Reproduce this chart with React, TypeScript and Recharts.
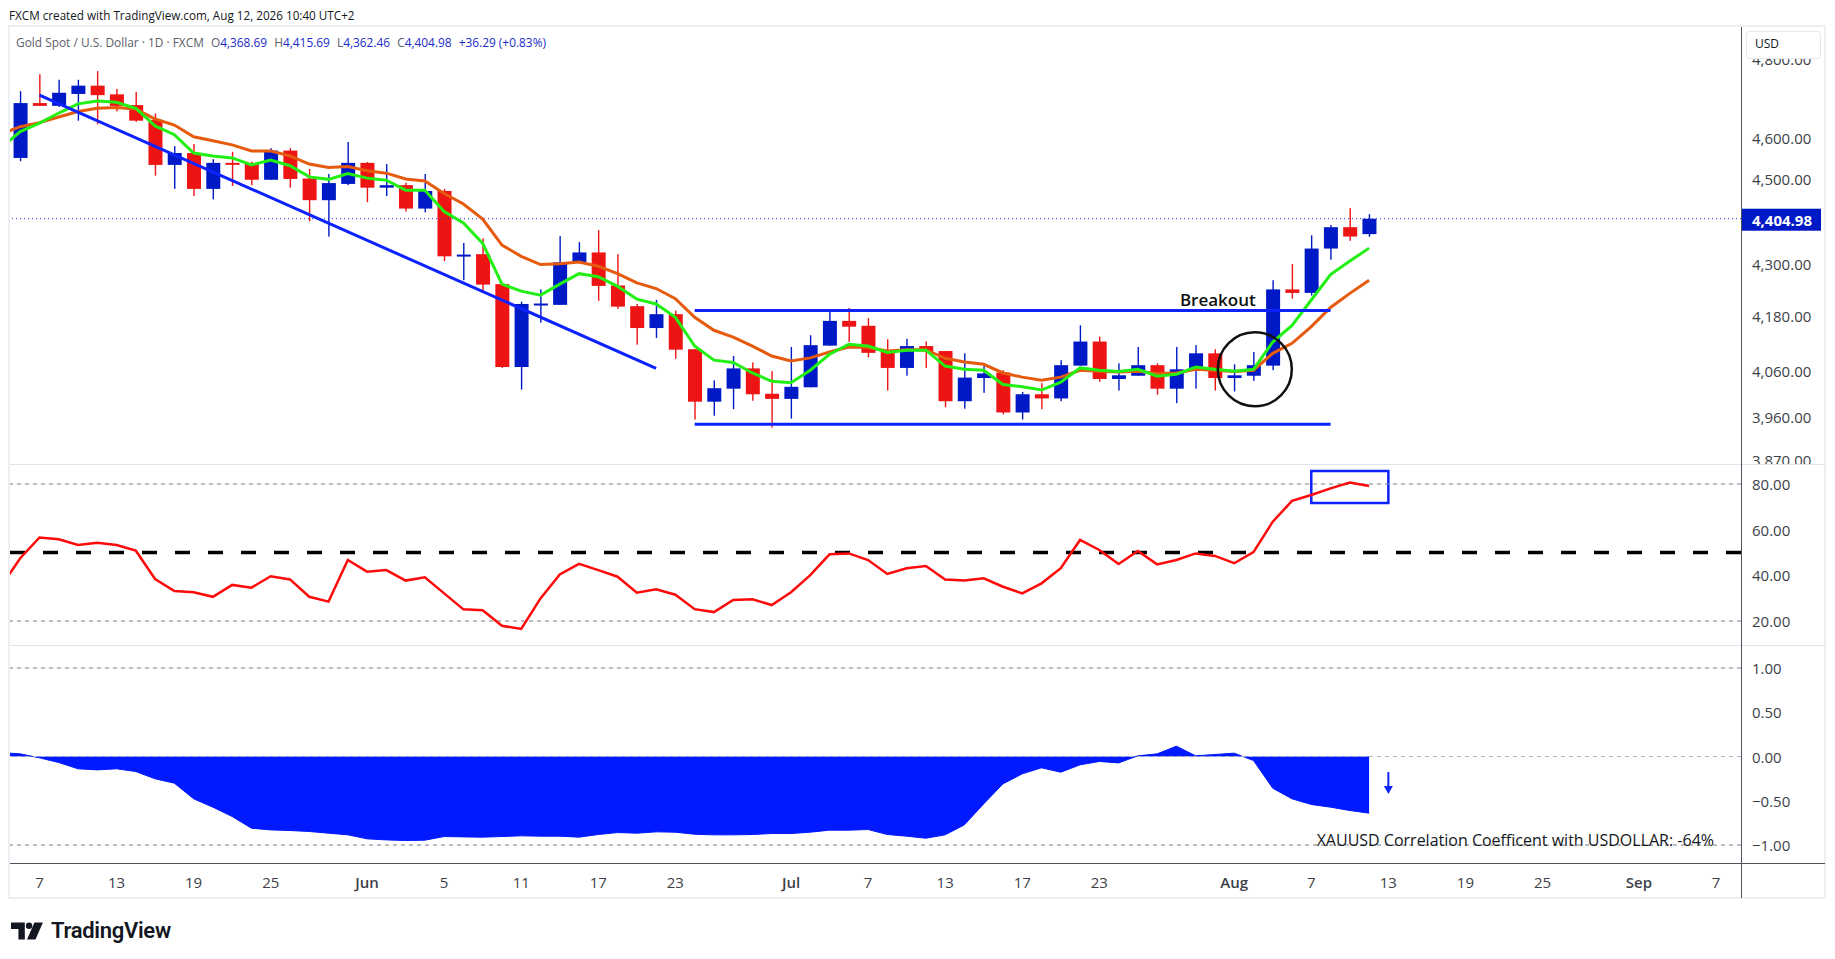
import React from 'react'
import {
  ComposedChart, Bar, Line, Area, XAxis, YAxis,
  ReferenceLine, ReferenceDot, ReferenceArea,
} from 'recharts'

// bar index 0 = May 6, 2026 (daily, weekdays only); index -1 only carries indicator values
const FIRST_INDEX = -1

const OPEN = [
  4551, 4687, 4680, 4710, 4731, 4709, 4682, 4645, 4534, 4563,
  4476, 4539, 4537, 4498, 4569, 4501, 4449, 4488, 4539, 4479,
  4485, 4429, 4471, 4318, 4322, 4253, 4068, 4207, 4206, 4303,
  4326, 4250, 4203, 4154, 4185, 4107, 3993, 4021, 4065, 4010,
  3999, 4024, 4115, 4170, 4159, 4101, 4066, 4114, 4103, 3994,
  4044, 4056, 3970, 4009, 4000, 4071, 4124, 4042, 4049, 4072,
  4021, 4061, 4098, 4044, 4049, 4071, 4241, 4233, 4335, 4385,
  4368.69,
]
const HIGH = [
  4717, 4760, 4746, 4746, 4768, 4723, 4715, 4661, 4580, 4585,
  4548, 4566, 4542, 4575, 4575, 4524, 4512, 4590, 4541, 4536,
  4491, 4512, 4476, 4348, 4359, 4253, 4213, 4241, 4364, 4350,
  4378, 4322, 4208, 4217, 4193, 4107, 4039, 4092, 4078, 4059,
  4112, 4138, 4192, 4199, 4176, 4129, 4130, 4124, 4103, 4098,
  4070, 4061, 4014, 4033, 4083, 4160, 4135, 4076, 4112, 4076,
  4112, 4116, 4107, 4074, 4101, 4262, 4299, 4366, 4390, 4430,
  4415.69,
]
const LOW = [
  4543, 4680, 4677, 4643, 4634, 4666, 4640, 4508, 4476, 4459,
  4451, 4483, 4485, 4498, 4479, 4399, 4363, 4485, 4444, 4459,
  4422, 4420, 4306, 4262, 4238, 4066, 4019, 4166, 4206, 4303,
  4215, 4197, 4117, 4132, 4086, 3955, 3963, 3977, 3995, 3938,
  3957, 4024, 4115, 4123, 4089, 4017, 4049, 4066, 3981, 3978,
  4012, 3966, 3955, 3977, 3994, 4071, 4036, 4017, 4049, 4008,
  3990, 4021, 4017, 4015, 4038, 4061, 4220, 4227, 4309, 4353,
  4362.46,
]
const CLOSE = [
  4687, 4680, 4713, 4731, 4707, 4680, 4643, 4534, 4563, 4476,
  4539, 4537, 4498, 4569, 4500, 4449, 4490, 4539, 4479, 4485,
  4429, 4471, 4317, 4321, 4252, 4068, 4208, 4209, 4303, 4326,
  4249, 4202, 4154, 4185, 4106, 3993, 4022, 4065, 4009, 3999,
  4025, 4116, 4170, 4157, 4099, 4066, 4114, 4102, 3994, 4045,
  4054, 3970, 4009, 4000, 4072, 4124, 4042, 4050, 4072, 4021,
  4063, 4098, 4044, 4050, 4072, 4241, 4233, 4335, 4385, 4363,
  4404.98,
]

// from index -1 to 70
const MA_FAST = [
  4575, 4616, 4637, 4662, 4685, 4692, 4689, 4674, 4630, 4608,
  4563, 4556, 4551, 4534, 4546, 4532, 4505, 4499, 4513, 4502,
  4497, 4473, 4473, 4422, 4395, 4347, 4253, 4237, 4228, 4253,
  4277, 4270, 4248, 4219, 4208, 4178, 4114, 4083, 4078, 4055,
  4037, 4034, 4061, 4096, 4118, 4114, 4100, 4105, 4105, 4070,
  4063, 4061, 4030, 4025, 4018, 4035, 4066, 4061, 4058, 4063,
  4048, 4052, 4068, 4063, 4059, 4063, 4123, 4160, 4217, 4275,
  4306, 4336,
]
const MA_SLOW = [
  4610, 4628, 4638, 4652, 4666, 4674, 4676, 4672, 4647, 4632,
  4603, 4593, 4583, 4568, 4568, 4556, 4536, 4528, 4530, 4520,
  4514, 4500, 4495, 4465, 4440, 4404, 4343, 4317, 4298, 4300,
  4304, 4294, 4277, 4256, 4243, 4220, 4178, 4149, 4134, 4114,
  4092, 4081, 4088, 4101, 4112, 4111, 4103, 4106, 4106, 4087,
  4079, 4074, 4055, 4046, 4039, 4046, 4061, 4059, 4057, 4059,
  4054, 4055, 4063, 4061, 4058, 4061, 4098, 4120, 4157, 4200,
  4232, 4262,
]
const RSI = [
  35, 47.5, 56.6, 55.8, 53.3, 54.3, 53.3, 50.8, 38.4, 33.1,
  32.6, 30.6, 35.8, 34.6, 39.6, 38.2, 30.6, 28.5, 46.7, 41.6,
  42.3, 37.7, 39.1, 32.1, 25.1, 24.7, 17.9, 16.5, 29.9, 40.4,
  45, 42.3, 39.4, 32.4, 33.9, 31.5, 25.2, 23.9, 29.2, 29.5,
  27, 32.6, 40.1, 49.2, 49.6, 46.7, 40.6, 43.1, 44.1, 38.2,
  37.7, 38.7, 35, 32.1, 36.5, 43.1, 55.5, 51.1, 45, 50.7,
  44.8, 46.7, 49.6, 48.5, 45.3, 50.2, 63.5, 72.6, 75.2, 78.1,
  80.6, 79.1,
]
const CORR = [
  0.045, 0.03, -0.015, -0.068, -0.139, -0.151, -0.139, -0.17, -0.252, -0.301,
  -0.478, -0.572, -0.678, -0.81, -0.829, -0.836, -0.847, -0.866, -0.885, -0.93,
  -0.942, -0.949, -0.945, -0.904, -0.908, -0.911, -0.904, -0.896, -0.9, -0.9,
  -0.911, -0.881, -0.859, -0.866, -0.851, -0.855, -0.878, -0.885, -0.885, -0.881,
  -0.87, -0.87, -0.855, -0.832, -0.832, -0.825, -0.881, -0.9, -0.923, -0.885,
  -0.772, -0.535, -0.309, -0.196, -0.128, -0.177, -0.094, -0.056, -0.072, 0.008,
  0.03, 0.117, 0.008, 0.023, 0.038, -0.045, -0.358, -0.478, -0.542, -0.572,
  -0.61, -0.64,
]

const TIME_TICKS = [1, 5, 9, 13, 18, 22, 26, 30, 34, 40, 44, 48, 52, 56, 63, 67, 71, 75, 79, 84, 88]
const TIME_LABELS = ['7', '13', '19', '25', 'Jun', '5', '11', '17', '23', 'Jul', '7', '13', '17', '23', 'Aug', '7', '13', '19', '25', 'Sep', '7']
const MONTHS = ['Jun', 'Jul', 'Aug', 'Sep']
const PRICE_TICKS = [3870, 3960, 4060, 4180, 4300, 4500, 4600, 4800]
const RSI_TICKS = [20, 40, 60, 80]
const CORR_TICKS = [-1, -0.5, 0, 0.5, 1]

const LAST_PRICE = 4404.98
const TREND_START = { x: 1, y: 4707 }
const TREND_END = { x: 33, y: 4065 }
const RANGE_X = [35, 68]
const RANGE_TOP = 4193
const RANGE_BOTTOM = 3945
const BREAKOUT_AT = { x: 62.15, y: 4219 }
const CIRCLE_AT = { x: 64.07, y: 4063 }
const RSI_BOX = { x1: 67, x2: 71, y1: 71.7, y2: 85.7 }
const ARROW_AT = { x: 71, y: -0.3 }
const CAPTION_AT = { x: 87.9, y: -0.94 }

const X_DOMAIN: [number, number] = [-0.53, 89.3]
const FONT = "'Open Sans', 'DejaVu Sans', sans-serif"
const AXIS_TEXT = '#3d3f48'
const UP = '#0019c6'
const DOWN = '#ee1414'
const TREND = '#0c22ff'
const CHART_W = 1815
const PLOT_W = 1731

const data = RSI.map((r, k) => {
  const i = k + FIRST_INDEX
  const row: any = { i, fast: MA_FAST[k], slow: MA_SLOW[k], rsi: r, corr: CORR[k] }
  if (i >= 0) {
    const o = OPEN[i], c = CLOSE[i]
    row.wick = [LOW[i], HIGH[i]]
    row.body = [Math.min(o, c), Math.max(o, c)]
    row.up = c >= o
  }
  return row
})

const fmtPrice = (v: number) => v.toLocaleString('en-US', { minimumFractionDigits: 2, maximumFractionDigits: 2 })
const fmtSigned = (v: number) => (v < 0 ? '\u2212' : '') + Math.abs(v).toFixed(2)

function Wick(p: any) {
  if (p.payload?.up === undefined) return null
  const top = Math.min(p.y, p.y + p.height)
  const h = Math.abs(p.height)
  return <rect x={p.x + p.width / 2 - 0.7} y={top} width={1.4} height={h} fill={p.payload.up ? UP : DOWN} />
}

function Body(p: any) {
  if (p.payload?.up === undefined) return null
  const top = Math.min(p.y, p.y + p.height)
  const h = Math.max(Math.abs(p.height), 2)
  return <rect x={p.x} y={top} width={p.width} height={h} fill={p.payload.up ? UP : DOWN} />
}

function ValueTick(p: any) {
  const v = p.payload.value
  const label = Math.abs(v) >= 1000 ? fmtPrice(v) : fmtSigned(v)
  return (
    <text x={PLOT_W + 11} y={p.y} dominantBaseline="central" fontSize={15} fontFamily={FONT} fill={AXIS_TEXT}>
      {label}
    </text>
  )
}

function TimeTick(p: any) {
  const idx = TIME_TICKS.indexOf(p.payload.value)
  const label = TIME_LABELS[idx] ?? ''
  return (
    <text x={p.x} y={p.y} dy={11} textAnchor="middle" dominantBaseline="central" fontSize={15}
      fontFamily={FONT} fontWeight={MONTHS.includes(label) ? 600 : 400} fill={AXIS_TEXT}>
      {label}
    </text>
  )
}

function LastTag(p: any) {
  const vb = p.viewBox || {}
  const x = (vb.x ?? 0) + (vb.width ?? PLOT_W)
  const y = (vb.y ?? 0) + 1
  return (
    <g>
      <rect x={x} y={y - 11} width={80} height={22} fill={UP} />
      <text x={x + 11} y={y} dominantBaseline="central" fontSize={15} fontWeight={700} fontFamily={FONT} fill="#fff">
        {fmtPrice(LAST_PRICE)}
      </text>
    </g>
  )
}

const noMargin = { top: 0, right: 0, bottom: 0, left: 0 }

function PriceChart() {
  return (
    <ComposedChart width={CHART_W} height={437} data={data} margin={noMargin}>
      <XAxis xAxisId="w" dataKey="i" type="number" domain={X_DOMAIN} allowDataOverflow hide />
      <XAxis xAxisId="b" dataKey="i" type="number" domain={X_DOMAIN} allowDataOverflow hide />
      <YAxis yAxisId="p" orientation="right" width={84} scale="log" domain={[3861.7, 4882.3]}
        allowDataOverflow ticks={PRICE_TICKS} interval={0} tick={<ValueTick />} axisLine={false} tickLine={false} />
      <ReferenceLine xAxisId="w" yAxisId="p" y={LAST_PRICE} stroke="#1a2bd0" strokeDasharray="1 3" label={<LastTag />} />
      <Bar xAxisId="w" yAxisId="p" dataKey="wick" barSize={14} shape={Wick} isAnimationActive={false} />
      <Bar xAxisId="b" yAxisId="p" dataKey="body" barSize={14} shape={Body} isAnimationActive={false} />
      <Line xAxisId="w" yAxisId="p" dataKey="slow" stroke="#e65a0e" strokeWidth={3} dot={false} isAnimationActive={false} />
      <Line xAxisId="w" yAxisId="p" dataKey="fast" stroke="#22f014" strokeWidth={3} dot={false} isAnimationActive={false} />
      <ReferenceLine xAxisId="w" yAxisId="p" segment={[TREND_START, TREND_END]} stroke={TREND} strokeWidth={3} />
      <ReferenceLine xAxisId="w" yAxisId="p" segment={[{ x: RANGE_X[0], y: RANGE_TOP }, { x: RANGE_X[1], y: RANGE_TOP }]} stroke={TREND} strokeWidth={3} />
      <ReferenceLine xAxisId="w" yAxisId="p" segment={[{ x: RANGE_X[0], y: RANGE_BOTTOM }, { x: RANGE_X[1], y: RANGE_BOTTOM }]} stroke={TREND} strokeWidth={3} />
      <ReferenceDot xAxisId="w" yAxisId="p" x={CIRCLE_AT.x} y={CIRCLE_AT.y} r={37} fill="none" stroke="#111" strokeWidth={2.5} />
      <ReferenceDot xAxisId="w" yAxisId="p" x={BREAKOUT_AT.x} y={BREAKOUT_AT.y}
        shape={(p: any) => (
          <text x={p.cx} y={p.cy} textAnchor="middle" dominantBaseline="central" fontSize={17} fontWeight={600} fontFamily={FONT} fill="#111">
            Breakout
          </text>
        )} />
    </ComposedChart>
  )
}

function RsiChart() {
  return (
    <ComposedChart width={CHART_W} height={181} data={data} margin={noMargin}>
      <XAxis xAxisId="w" dataKey="i" type="number" domain={X_DOMAIN} allowDataOverflow hide />
      <YAxis yAxisId="r" orientation="right" width={84} domain={[9.49, 88.76]} allowDataOverflow
        ticks={RSI_TICKS} interval={0} tick={<ValueTick />} axisLine={false} tickLine={false} />
      <ReferenceLine xAxisId="w" yAxisId="r" y={80} stroke="#7a7d88" strokeDasharray="4 4" />
      <ReferenceLine xAxisId="w" yAxisId="r" y={20} stroke="#7a7d88" strokeDasharray="4 4" />
      <ReferenceLine xAxisId="w" yAxisId="r" y={50} stroke="#000" strokeWidth={3.5} strokeDasharray="15 18" />
      <Line xAxisId="w" yAxisId="r" dataKey="rsi" stroke="#ff0a0a" strokeWidth={2.5} dot={false} isAnimationActive={false} />
      <ReferenceArea xAxisId="w" yAxisId="r" x1={RSI_BOX.x1} x2={RSI_BOX.x2} y1={RSI_BOX.y1} y2={RSI_BOX.y2}
        fill="none" fillOpacity={0} stroke={TREND} strokeWidth={2.5} />
    </ComposedChart>
  )
}

function CorrChart() {
  return (
    <ComposedChart width={CHART_W} height={253} data={data} margin={noMargin}>
      <XAxis xAxisId="w" dataKey="i" type="number" domain={X_DOMAIN} allowDataOverflow height={35}
        ticks={TIME_TICKS} interval={0} tick={<TimeTick />} axisLine={false} tickLine={false} />
      <YAxis yAxisId="c" orientation="right" width={84} domain={[-1.203, 1.26]} allowDataOverflow
        ticks={CORR_TICKS} interval={0} tick={<ValueTick />} axisLine={false} tickLine={false} />
      <ReferenceLine xAxisId="w" yAxisId="c" y={1} stroke="#7a7d88" strokeDasharray="4 4" />
      <ReferenceLine xAxisId="w" yAxisId="c" y={-1} stroke="#7a7d88" strokeDasharray="4 4" />
      <ReferenceLine xAxisId="w" yAxisId="c" y={0} stroke="#b4b6bf" strokeDasharray="4 4" />
      <Area xAxisId="w" yAxisId="c" dataKey="corr" type="linear" baseValue={0} stroke="#0019ff" strokeWidth={1}
        fill="#0019ff" fillOpacity={1} isAnimationActive={false} />
      <ReferenceDot xAxisId="w" yAxisId="c" x={ARROW_AT.x} y={ARROW_AT.y}
        shape={(p: any) => (
          <g>
            <rect x={p.cx - 1} y={p.cy - 11} width={2} height={16} fill={TREND} />
            <path d={`M${p.cx - 4.5},${p.cy + 3} L${p.cx + 4.5},${p.cy + 3} L${p.cx},${p.cy + 11} Z`} fill={TREND} />
          </g>
        )} />
      <ReferenceDot xAxisId="w" yAxisId="c" x={CAPTION_AT.x} y={CAPTION_AT.y}
        shape={(p: any) => (
          <text x={p.cx} y={p.cy} textAnchor="end" dominantBaseline="central" fontSize={16} fontWeight={500} fontFamily={FONT} fill="#131722">
            XAUUSD Correlation Coefficent with USDOLLAR: -64%
          </text>
        )} />
    </ComposedChart>
  )
}

const abs = (left: number, top: number, extra: React.CSSProperties = {}): React.CSSProperties => ({
  position: 'absolute', left, top, ...extra,
})

export default function App() {
  const legendValue = { color: '#1b2ac8' }
  return (
    <div style={{ position: 'absolute', left: 0, top: 0, width: 1835, height: 959, background: '#fff', overflow: 'hidden', fontFamily: FONT }}>
      <div style={abs(9, 7, { fontSize: 11.7, color: '#131722', whiteSpace: 'nowrap' })}>
        FXCM created with TradingView.com, Aug 12, 2026 10:40 UTC+2
      </div>
      <div style={abs(8, 25, { width: 1818, height: 874, border: '2px solid #eeeff2', boxSizing: 'border-box' })} />

      <div style={abs(10, 27)}><PriceChart /></div>
      <div style={abs(10, 464)}><RsiChart /></div>
      <div style={abs(10, 645)}><CorrChart /></div>

      <div style={abs(16, 34, { fontSize: 11.9, color: '#5d606b', whiteSpace: 'nowrap' })}>
        Gold Spot / U.S. Dollar · 1D · FXCM
        <span style={{ marginLeft: 7 }}>O</span><span style={legendValue}>4,368.69</span>
        <span style={{ marginLeft: 7 }}>H</span><span style={legendValue}>4,415.69</span>
        <span style={{ marginLeft: 7 }}>L</span><span style={legendValue}>4,362.46</span>
        <span style={{ marginLeft: 7 }}>C</span><span style={legendValue}>4,404.98</span>
        <span style={{ marginLeft: 7, ...legendValue }}>+36.29 (+0.83%)</span>
      </div>

      <div style={abs(10, 464, { width: 1815, height: 1, background: '#e0e3eb' })} />
      <div style={abs(10, 645, { width: 1815, height: 1, background: '#e0e3eb' })} />
      <div style={abs(10, 863, { width: 1815, height: 1, background: '#50535e' })} />
      <div style={abs(1741, 27, { width: 1, height: 871, background: '#50535e' })} />

      <div style={abs(1746, 31, {
        width: 75, height: 28, border: '1px solid #e6e8ee', borderRadius: 4, background: '#fff',
        boxSizing: 'border-box', fontSize: 12, color: '#131722', lineHeight: '24px', paddingLeft: 8,
      })}>USD</div>

      <div style={abs(11, 918, { display: 'flex', alignItems: 'center', gap: 6 })}>
        <svg width={34} height={20} viewBox="0 0 32 18">
          <path d="M0 1h13v16H7V7H0z" fill="#131722" />
          <circle cx={17} cy={4} r={3} fill="#131722" />
          <path d="M22 1h8l-7 16h-8z" fill="#131722" />
        </svg>
        <span style={{ fontFamily: 'Roboto, sans-serif', fontWeight: 600, fontSize: 22, color: '#131722', letterSpacing: -0.3 }}>
          TradingView
        </span>
      </div>
    </div>
  )
}
